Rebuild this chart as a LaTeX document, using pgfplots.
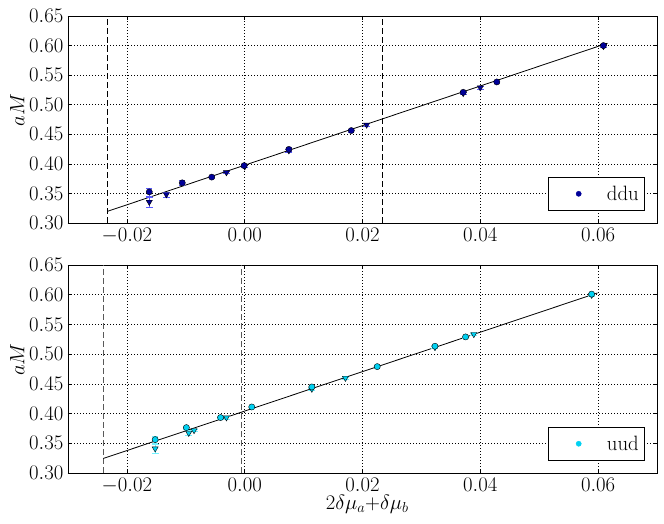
\documentclass[border=0pt]{standalone}
\usepackage{pgfplots}
\usepackage{pgfplotstable}
\pgfplotsset{compat=1.18}

\definecolor{ddu}{rgb}{0,0,0.6}
\definecolor{ddubar}{rgb}{0.35,0.35,1}
\definecolor{uud}{rgb}{0,0.82,0.95}
\definecolor{uudbar}{rgb}{0.45,0.95,1}

\pgfplotstableread{
x y e
-0.0162 0.3526 0.007
-0.0106 0.3679 0.004
-0.0056 0.3776 0.002
-0.0001 0.3970 0.003
0.0075 0.4245 0.003
0.0181 0.4563 0.002
0.0371 0.5210 0.002
0.0428 0.5385 0.002
0.0609 0.6000 0.002
}\dducirc
\pgfplotstableread{
x y e
-0.0162 0.3355 0.008
-0.0133 0.3481 0.004
-0.0031 0.3855 0.002
0.0000 0.3955 0.002
0.0075 0.4225 0.002
0.0207 0.4660 0.002
0.0371 0.5195 0.002
0.0400 0.5290 0.002
0.0609 0.5990 0.002
}\ddutri
\pgfplotstableread{
x y e
-0.0152 0.3562 0.006
-0.0099 0.3764 0.003
-0.0041 0.3933 0.002
0.0012 0.4111 0.002
0.0114 0.4448 0.002
0.0225 0.4790 0.002
0.0323 0.5133 0.002
0.0375 0.5290 0.002
0.0589 0.6010 0.002
}\uudcirc
\pgfplotstableread{
x y e
-0.0152 0.3411 0.007
-0.0095 0.3673 0.004
-0.0086 0.3719 0.002
-0.0031 0.3933 0.002
0.0114 0.4415 0.002
0.0171 0.4599 0.002
0.0323 0.5115 0.002
0.0389 0.5335 0.002
0.0589 0.5995 0.002
}\uudtri

\pgfplotsset{
  myax/.style={
    scale only axis, width=589pt,
    xmin=-0.03, xmax=0.07, ymin=0.30, ymax=0.65,
    xtick={-0.02,0,0.02,0.04,0.06},
    ytick={0.30,0.35,0.40,0.45,0.50,0.55,0.60,0.65},
    scaled x ticks=false, scaled y ticks=false,
    grid=major,
    grid style={black, line width=0.5pt, dash pattern=on 1pt off 2pt},
    axis line style={line width=0.6pt},
    tick style={black, line width=0.5pt},
    major tick length=4pt,
    xticklabel style={/pgf/number format/fixed, /pgf/number format/fixed zerofill, /pgf/number format/precision=2},
    yticklabel style={/pgf/number format/fixed, /pgf/number format/fixed zerofill, /pgf/number format/precision=2},
    tick label style={font=\fontsize{20.74}{24}\selectfont, inner sep=4.5pt},
    label style={font=\fontsize{20.74}{24}\selectfont},
    ylabel={$aM$},
    ylabel style={at={(ticklabel cs:0.545)}, inner sep=0pt},
    legend style={draw=black, line width=0.5pt, fill=white,
      font=\fontsize{20.74}{24}\selectfont,
      at={(0.9796,0.058)}, anchor=south east,
      inner xsep=4pt, inner ysep=7pt},
    legend image code/.code={\path (-26pt,0) (26pt,0); \draw[##1] plot coordinates {(0,0)};},
  },
  circ/.style={only marks, mark=*, mark size=3.1pt,
    mark options={draw=black, fill=#1, line width=0.4pt, solid},
    /pgfplots/error bars/y dir=both, /pgfplots/error bars/y explicit,
    /pgfplots/error bars/error bar style={#1bar, line width=0.8pt}},
  tri/.style={only marks, mark=triangle*, mark size=3.5pt,
    mark options={draw=black, fill=#1, line width=0.4pt, solid, rotate=180},
    /pgfplots/error bars/y dir=both, /pgfplots/error bars/y explicit,
    /pgfplots/error bars/error bar style={#1bar, line width=0.8pt}},
}

\begin{document}
\begin{tikzpicture}
\useasboundingbox (0,0) rectangle (664pt,524pt);

\begin{axis}[myax, height=207pt, at={(68pt,301pt)}, anchor=south west]
\addlegendimage{only marks, mark=*, mark size=2.6pt, mark options={draw=ddu, fill=ddu, line width=0.4pt}}
\addlegendentry{ddu}
\addplot[black, line width=0.8pt, dash pattern=on 6pt off 3pt, forget plot] coordinates {(-0.0233,0.30) (-0.0233,0.65)};
\addplot[black, line width=0.8pt, dash pattern=on 6pt off 3pt, forget plot] coordinates {(0.0233,0.30) (0.0233,0.65)};
\addplot[black, line width=0.8pt, forget plot] coordinates {(-0.0233,0.3197) (0.0616,0.6040)};
\addplot[forget plot, tri=ddu] table[x=x, y=y, y error=e] {\ddutri};
\addplot[forget plot, circ=ddu] table[x=x, y=y, y error=e] {\dducirc};
\end{axis}

\begin{axis}[myax, height=208pt, at={(68pt,51pt)}, anchor=south west,
  xlabel={$2\delta\mu_a{+}\delta\mu_b$},
  xlabel style={at={(axis description cs:0.508,0)}, anchor=north, yshift=-22pt, inner sep=0pt}]
\addlegendimage{only marks, mark=*, mark size=2.6pt, mark options={draw=uud, fill=uud, line width=0.4pt}}
\addlegendentry{uud}
\addplot[black!65, line width=1pt, dash pattern=on 6pt off 3pt, forget plot] coordinates {(-0.0240,0.30) (-0.0240,0.65)};
\addplot[black!65, line width=1pt, dash pattern=on 6pt off 3pt, forget plot] coordinates {(-0.0006,0.30) (-0.0006,0.65)};
\addplot[black, line width=0.8pt, forget plot] coordinates {(-0.0240,0.3245) (0.0599,0.6030)};
\addplot[forget plot, tri=uud] table[x=x, y=y, y error=e] {\uudtri};
\addplot[forget plot, circ=uud] table[x=x, y=y, y error=e] {\uudcirc};
\end{axis}
\end{tikzpicture}
\end{document}
